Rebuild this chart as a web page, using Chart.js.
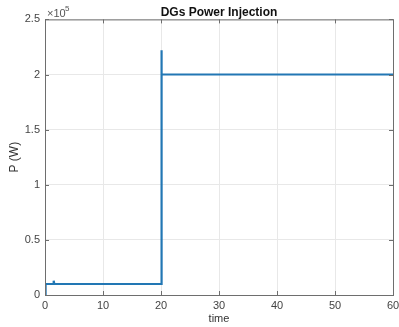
<!DOCTYPE html>
<html>
<head>
<meta charset="utf-8">
<script src="https://cdn.jsdelivr.net/npm/chart.js@4/dist/chart.umd.min.js"></script>
<style>
  html, body { margin: 0; padding: 0; background: #fff; }
  #wrap { width: 399px; height: 327px; }
</style>
</head>
<body>
<div id="wrap"><canvas id="power-chart"></canvas></div>
<script>
// time (s) and injected power (W)
var timeVals  = [0, 0.1, 1.4, 1.5, 1.6, 20, 20.05, 20.15, 60];
var powerVals = [0, 10000, 10000, 13000, 10000, 10000, 222000, 200000, 200000];
var xTicks = [0, 10, 20, 30, 40, 50, 60];
var yTicks = [0, 50000, 100000, 150000, 200000, 250000];

var points = timeVals.map(function(t, i){ return {x: t, y: powerVals[i]}; });

// matlab style box with inward ticks plus the x10^5 exponent
var boxPlugin = {
  id: 'box',
  afterDraw: function(chart){
    var a = chart.chartArea, ctx = chart.ctx;
    var xs = chart.scales.x, ys = chart.scales.y;
    ctx.save();
    ctx.strokeStyle = '#6e6e6e';
    ctx.lineWidth = 1;
    ctx.strokeRect(a.left + 0.5, a.top + 0.5, a.right - a.left, a.bottom - a.top);
    ctx.beginPath();
    xTicks.forEach(function(v){
      var px = Math.round(xs.getPixelForValue(v)) + 0.5;
      ctx.moveTo(px, a.bottom); ctx.lineTo(px, a.bottom - 4);
      ctx.moveTo(px, a.top); ctx.lineTo(px, a.top + 4);
    });
    yTicks.forEach(function(v){
      var py = Math.round(ys.getPixelForValue(v)) + 0.5;
      ctx.moveTo(a.left, py); ctx.lineTo(a.left + 4, py);
      ctx.moveTo(a.right, py); ctx.lineTo(a.right - 4, py);
    });
    ctx.stroke();
    ctx.fillStyle = '#555';
    ctx.font = '11px "Liberation Sans", Arial, sans-serif';
    ctx.textBaseline = 'alphabetic';
    ctx.fillText('\u00d710', a.left + 2, a.top - 2);
    ctx.font = '8px "Liberation Sans", Arial, sans-serif';
    ctx.fillText('5', a.left + 20, a.top - 8);
    ctx.restore();
  }
};

new Chart(document.getElementById('power-chart'), {
  type: 'scatter',
  data: {
    datasets: [{
      label: 'P',
      data: points,
      showLine: true,
      borderColor: '#2277b4',
      backgroundColor: '#2277b4',
      borderWidth: 2.2,
      pointRadius: 0,
      tension: 0
    }]
  },
  options: {
    responsive: true,
    maintainAspectRatio: false,
    animation: false,
    layout: { padding: { left: 7, right: 6, top: 0, bottom: 0 } },
    plugins: {
      legend: { display: false },
      tooltip: { enabled: false },
      title: {
        display: true,
        fullSize: false,
        text: 'DGs Power Injection',
        color: '#111',
        font: { family: '"Liberation Sans", Arial, sans-serif', size: 12, weight: 'bold' },
        padding: { top: 5, bottom: 0 }
      }
    },
    scales: {
      x: {
        type: 'linear',
        min: 0, max: 60,
        afterBuildTicks: function(s){ s.ticks = xTicks.map(function(v){ return {value: v}; }); },
        afterFit: function(s){ s.height = 32; s.paddingRight = 0; s.paddingLeft = 0; },
        ticks: { color: '#444', padding: 4, maxRotation: 0,
                 font: { family: '"Liberation Sans", Arial, sans-serif', size: 11 } },
        grid: { color: '#e8e8e8', drawTicks: false },
        border: { display: false },
        title: { display: true, text: 'time', color: '#333', padding: { top: 1, bottom: 1 },
                 font: { family: '"Liberation Sans", Arial, sans-serif', size: 11 } }
      },
      y: {
        min: 0, max: 250000,
        afterBuildTicks: function(s){ s.ticks = yTicks.map(function(v){ return {value: v}; }); },
        afterFit: function(s){ s.width = 38; },
        ticks: { color: '#444', padding: 5,
                 font: { family: '"Liberation Sans", Arial, sans-serif', size: 11 },
                 callback: function(v){ return String(v / 100000); } },
        grid: { color: '#e8e8e8', drawTicks: false },
        border: { display: false },
        title: { display: true, text: 'P (W)', color: '#333', padding: { top: 0, bottom: 0 },
                 font: { family: '"Liberation Sans", Arial, sans-serif', size: 12 } }
      }
    }
  },
  plugins: [boxPlugin]
});
</script>
</body>
</html>
